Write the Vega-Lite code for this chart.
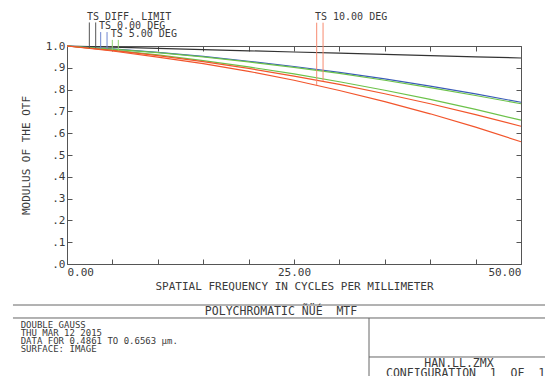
{
  "$schema": "https://vega.github.io/schema/vega-lite/v6.json",
  "width": 454,
  "height": 218,
  "autosize": {"type": "none"},
  "padding": {"left": 67, "top": 46, "right": 24, "bottom": 112},
  "background": "white",
  "datasets": {
    "curves": [
      {"freq": 0, "mtf": 1.0, "curve": "DIFF"}, {"freq": 5, "mtf": 0.9945, "curve": "DIFF"}, {"freq": 10, "mtf": 0.989, "curve": "DIFF"}, {"freq": 15, "mtf": 0.9835, "curve": "DIFF"}, {"freq": 20, "mtf": 0.978, "curve": "DIFF"}, {"freq": 25, "mtf": 0.9725, "curve": "DIFF"}, {"freq": 30, "mtf": 0.967, "curve": "DIFF"}, {"freq": 35, "mtf": 0.9615, "curve": "DIFF"}, {"freq": 40, "mtf": 0.956, "curve": "DIFF"}, {"freq": 45, "mtf": 0.9505, "curve": "DIFF"}, {"freq": 50, "mtf": 0.945, "curve": "DIFF"},
      {"freq": 0, "mtf": 1.0, "curve": "F0"}, {"freq": 5, "mtf": 0.987, "curve": "F0"}, {"freq": 10, "mtf": 0.971, "curve": "F0"}, {"freq": 15, "mtf": 0.952, "curve": "F0"}, {"freq": 20, "mtf": 0.930, "curve": "F0"}, {"freq": 25, "mtf": 0.906, "curve": "F0"}, {"freq": 30, "mtf": 0.879, "curve": "F0"}, {"freq": 35, "mtf": 0.849, "curve": "F0"}, {"freq": 40, "mtf": 0.816, "curve": "F0"}, {"freq": 45, "mtf": 0.780, "curve": "F0"}, {"freq": 50, "mtf": 0.742, "curve": "F0"},
      {"freq": 0, "mtf": 1.0, "curve": "F5S"}, {"freq": 5, "mtf": 0.986, "curve": "F5S"}, {"freq": 10, "mtf": 0.970, "curve": "F5S"}, {"freq": 15, "mtf": 0.950, "curve": "F5S"}, {"freq": 20, "mtf": 0.927, "curve": "F5S"}, {"freq": 25, "mtf": 0.902, "curve": "F5S"}, {"freq": 30, "mtf": 0.874, "curve": "F5S"}, {"freq": 35, "mtf": 0.843, "curve": "F5S"}, {"freq": 40, "mtf": 0.809, "curve": "F5S"}, {"freq": 45, "mtf": 0.773, "curve": "F5S"}, {"freq": 50, "mtf": 0.735, "curve": "F5S"},
      {"freq": 0, "mtf": 1.0, "curve": "F5T"}, {"freq": 5, "mtf": 0.981, "curve": "F5T"}, {"freq": 10, "mtf": 0.959, "curve": "F5T"}, {"freq": 15, "mtf": 0.933, "curve": "F5T"}, {"freq": 20, "mtf": 0.904, "curve": "F5T"}, {"freq": 25, "mtf": 0.872, "curve": "F5T"}, {"freq": 30, "mtf": 0.836, "curve": "F5T"}, {"freq": 35, "mtf": 0.797, "curve": "F5T"}, {"freq": 40, "mtf": 0.755, "curve": "F5T"}, {"freq": 45, "mtf": 0.709, "curve": "F5T"}, {"freq": 50, "mtf": 0.660, "curve": "F5T"},
      {"freq": 0, "mtf": 1.0, "curve": "F10S"}, {"freq": 5, "mtf": 0.980, "curve": "F10S"}, {"freq": 10, "mtf": 0.956, "curve": "F10S"}, {"freq": 15, "mtf": 0.928, "curve": "F10S"}, {"freq": 20, "mtf": 0.897, "curve": "F10S"}, {"freq": 25, "mtf": 0.862, "curve": "F10S"}, {"freq": 30, "mtf": 0.824, "curve": "F10S"}, {"freq": 35, "mtf": 0.781, "curve": "F10S"}, {"freq": 40, "mtf": 0.735, "curve": "F10S"}, {"freq": 45, "mtf": 0.685, "curve": "F10S"}, {"freq": 50, "mtf": 0.632, "curve": "F10S"},
      {"freq": 0, "mtf": 1.0, "curve": "F10T"}, {"freq": 5, "mtf": 0.977, "curve": "F10T"}, {"freq": 10, "mtf": 0.949, "curve": "F10T"}, {"freq": 15, "mtf": 0.919, "curve": "F10T"}, {"freq": 20, "mtf": 0.884, "curve": "F10T"}, {"freq": 25, "mtf": 0.843, "curve": "F10T"}, {"freq": 30, "mtf": 0.796, "curve": "F10T"}, {"freq": 35, "mtf": 0.745, "curve": "F10T"}, {"freq": 40, "mtf": 0.689, "curve": "F10T"}, {"freq": 45, "mtf": 0.628, "curve": "F10T"}, {"freq": 50, "mtf": 0.561, "curve": "F10T"}
    ],
    "legrules": [
      {"x": 2.46, "y1": 1.108, "y2": 0.99, "col": "#555555"},
      {"x": 3.16, "y1": 1.108, "y2": 0.99, "col": "#555555"},
      {"x": 3.71, "y1": 1.064, "y2": 0.988, "col": "#6f86d0"},
      {"x": 4.41, "y1": 1.064, "y2": 0.986, "col": "#6f86d0"},
      {"x": 4.99, "y1": 1.028, "y2": 0.982, "col": "#8fd470"},
      {"x": 5.65, "y1": 1.028, "y2": 0.98, "col": "#8fd470"},
      {"x": 27.5, "y1": 1.107, "y2": 0.82, "col": "#f78a70"},
      {"x": 28.2, "y1": 1.107, "y2": 0.84, "col": "#f78a70"}
    ],
    "leglabels": [
      {"x": 2.2, "y": 1.119, "label": "TS DIFF. LIMIT"},
      {"x": 3.52, "y": 1.0766, "label": "TS 0.00 DEG"},
      {"x": 4.81, "y": 1.04, "label": "TS 5.00 DEG"},
      {"x": 27.31, "y": 1.119, "label": "TS 10.00 DEG"}
    ],
    "boxlines": [
      {"x1": -5.95, "x2": 52.7, "y1": -0.1881, "y2": -0.1881},
      {"x1": -5.95, "x2": 52.7, "y1": -0.2477, "y2": -0.2477},
      {"x1": 33.26, "x2": 33.26, "y1": -0.2477, "y2": -0.53},
      {"x1": 33.26, "x2": 52.7, "y1": -0.4266, "y2": -0.4266}
    ],
    "boxleft": [
      {"x": -5.1, "y": -0.2913, "label": "DOUBLE GAUSS"},
      {"x": -5.1, "y": -0.3294, "label": "THU MAR 12 2015"},
      {"x": -5.1, "y": -0.3675, "label": "DATA FOR 0.4861 TO 0.6563 µm."},
      {"x": -5.1, "y": -0.4056, "label": "SURFACE: IMAGE"}
    ],
    "boxcenter": [
      {"x": 23.57, "y": -0.234, "label": "POLYCHROMATIC ÑÜÉ\u00a0\u00a0MTF"},
      {"x": 43.17, "y": -0.4725, "label": "HAN.LL.ZMX"},
      {"x": 43.9, "y": -0.52, "label": "CONFIGURATION\u00a0\u00a01\u00a0\u00a0OF\u00a0\u00a01"}
    ]
  },
  "layer": [
    {
      "data": {"name": "curves"},
      "mark": {"type": "line", "strokeWidth": 1.2},
      "encoding": {
        "x": {"field": "freq", "type": "quantitative", "scale": {"domain": [0, 50], "nice": false, "zero": false},
          "axis": {"orient": "bottom", "values": [0, 5, 10, 15, 20, 25, 30, 35, 40, 45, 50],
            "labelExpr": "datum.value % 25 == 0 ? format(datum.value, '.2f') : ''",
            "labelFlush": true, "labelOverlap": false, "tickSize": -5, "labelPadding": 7,
            "title": "SPATIAL FREQUENCY IN CYCLES PER MILLIMETER", "titlePadding": 3}},
        "y": {"field": "mtf", "type": "quantitative", "scale": {"domain": [0, 1], "nice": false, "zero": false},
          "axis": {"orient": "left", "values": [0, 0.1, 0.2, 0.3, 0.4, 0.5, 0.6, 0.7, 0.8, 0.9, 1.0],
            "labelExpr": "datum.value > 0.95 ? '1.0' : '.' + format(datum.value * 10, '.0f')",
            "tickSize": -5, "labelPadding": 7, "labelOverlap": false,
            "title": "MODULUS OF THE OTF", "titlePadding": 14}},
        "color": {"field": "curve", "type": "nominal", "legend": null,
          "scale": {"domain": ["DIFF", "F0", "F5S", "F5T", "F10S", "F10T"],
            "range": ["#333333", "#3a5bb8", "#6cc24a", "#6cc24a", "#f2552c", "#f2552c"]}},
        "order": {"field": "freq", "type": "quantitative"}
      }
    },
    {
      "data": {"name": "legrules"},
      "mark": {"type": "rule", "strokeWidth": 1},
      "encoding": {
        "x": {"field": "x", "type": "quantitative",
          "axis": {"orient": "top", "values": [0, 5, 10, 15, 20, 25, 30, 35, 40, 45, 50], "labels": false, "tickSize": -5, "title": null}},
        "y": {"field": "y1", "type": "quantitative",
          "axis": {"orient": "right", "values": [0, 0.1, 0.2, 0.3, 0.4, 0.5, 0.6, 0.7, 0.8, 0.9, 1.0], "labels": false, "tickSize": -5, "title": null}},
        "y2": {"field": "y2"},
        "color": {"field": "col", "type": "nominal", "scale": null}
      }
    },
    {
      "data": {"name": "leglabels"},
      "mark": {"type": "text", "align": "left", "baseline": "alphabetic", "fontSize": 10, "color": "#3a3a3a"},
      "encoding": {
        "x": {"field": "x", "type": "quantitative", "axis": null},
        "y": {"field": "y", "type": "quantitative", "axis": null},
        "text": {"field": "label"}
      }
    },
    {
      "data": {"name": "boxlines"},
      "mark": {"type": "rule", "strokeWidth": 1, "color": "#666666"},
      "encoding": {
        "x": {"field": "x1", "type": "quantitative", "axis": null},
        "x2": {"field": "x2"},
        "y": {"field": "y1", "type": "quantitative", "axis": null},
        "y2": {"field": "y2"}
      }
    },
    {
      "data": {"name": "boxleft"},
      "mark": {"type": "text", "align": "left", "baseline": "alphabetic", "fontSize": 9, "color": "#3a3a3a"},
      "encoding": {
        "x": {"field": "x", "type": "quantitative", "axis": null},
        "y": {"field": "y", "type": "quantitative", "axis": null},
        "text": {"field": "label"}
      }
    },
    {
      "data": {"name": "boxcenter"},
      "mark": {"type": "text", "align": "center", "baseline": "alphabetic", "fontSize": 11.5, "color": "#3a3a3a"},
      "encoding": {
        "x": {"field": "x", "type": "quantitative", "axis": null},
        "y": {"field": "y", "type": "quantitative", "axis": null},
        "text": {"field": "label"}
      }
    }
  ],
  "resolve": {"axis": {"x": "independent", "y": "independent"}},
  "config": {
    "view": {"stroke": "#555555", "strokeWidth": 1},
    "axis": {"labelFont": "DejaVu Sans Mono", "labelFontSize": 11, "labelColor": "#3a3a3a",
      "titleFont": "DejaVu Sans Mono", "titleFontSize": 11, "titleFontWeight": "normal", "titleColor": "#3a3a3a",
      "tickColor": "#555555", "domain": false, "grid": false},
    "text": {"font": "DejaVu Sans Mono"}
  }
}
